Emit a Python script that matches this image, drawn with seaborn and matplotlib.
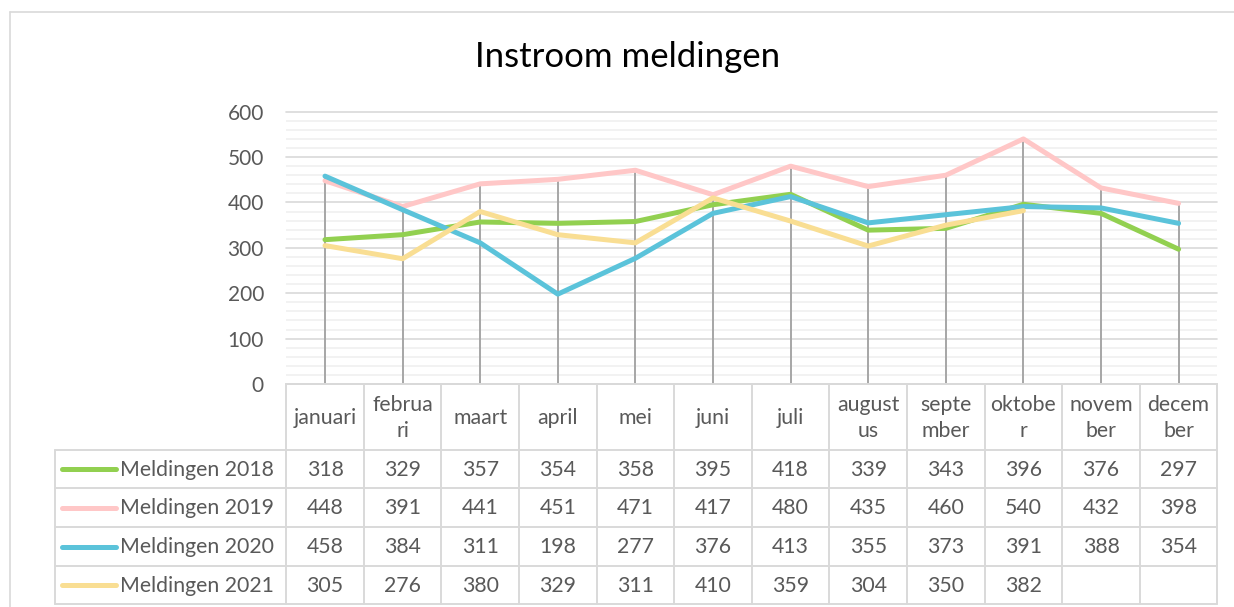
import numpy as np
import pandas as pd
import matplotlib
matplotlib.use("Agg")
import matplotlib.pyplot as plt
from matplotlib.lines import Line2D
import seaborn as sns

# ---------------- data ----------------
months = ["januari", "februari", "maart", "april", "mei", "juni", "juli",
          "augustus", "september", "oktober", "november", "december"]
month_labels = ["januari", "februa\nri", "maart", "april", "mei", "juni", "juli",
                "august\nus", "septe\nmber", "oktobe\nr", "novem\nber", "decem\nber"]
series_names = ["Meldingen 2018", "Meldingen 2019", "Meldingen 2020", "Meldingen 2021"]
m2018 = [318, 329, 357, 354, 358, 395, 418, 339, 343, 396, 376, 297]
m2019 = [448, 391, 441, 451, 471, 417, 480, 435, 460, 540, 432, 398]
m2020 = [458, 384, 311, 198, 277, 376, 413, 355, 373, 391, 388, 354]
m2021 = [305, 276, 380, 329, 311, 410, 359, 304, 350, 382, None, None]
colors = ["#92D050", "#FFC7C7", "#5BC3DA", "#F9DE93"]
title = "Instroom meldingen"

all_series = [m2018, m2019, m2020, m2021]
rows = []
for name, vals in zip(series_names, all_series):
    for i, v in enumerate(vals):
        if v is not None:
            rows.append({"idx": i, "value": v, "series": name})
df = pd.DataFrame(rows)

# ---------------- style ----------------
sns.set_theme(style="white")
plt.rcParams["font.family"] = ["Lato", "DejaVu Sans"]
txt_color = "#595959"
grid_major = "#D9D9D9"
grid_minor = "#F0F0F0"
drop_color = "#A6A6A6"

W, H = 1234, 607
fig = plt.figure(figsize=(W / 100, H / 100), dpi=100)
fig.patch.set_facecolor("white")

def fx(px):
    return px / W

def fy(py):
    return 1 - py / H

x_left, x_right = 286.2, 1217.4
y_top, y_zero, y_bottom = 111.7, 384.0, 604.0
cat_w = (x_right - x_left) / 12

ax = fig.add_axes([fx(x_left), fy(y_zero), (x_right - x_left) / W, (y_zero - y_top) / H])

# drop lines (from highest point to axis)
maxes = df.groupby("idx")["value"].max()
ax.vlines(maxes.index, 0, maxes.values, color=drop_color, lw=1.4, zorder=1.5)

sns.lineplot(data=df, x="idx", y="value", hue="series", hue_order=series_names,
             palette=colors, lw=3.6, ax=ax, legend=False, sort=False, zorder=3)

ax.set_xlim(-0.5, 11.5)
ax.set_ylim(0, 600)
ax.set_yticks(np.arange(0, 601, 100))
ax.set_yticks(np.arange(0, 601, 20), minor=True)
ax.set_xticks([])
ax.grid(which="major", axis="y", color=grid_major, lw=1.2)
ax.grid(which="minor", axis="y", color=grid_minor, lw=1.2)
ax.set_axisbelow(True)
for gl in ax.get_ygridlines():
    gl.set_clip_on(False)
for s in ax.spines.values():
    s.set_visible(False)
ax.tick_params(axis="y", which="both", length=0, pad=16, labelsize=15, labelcolor=txt_color)
ax.set_xlabel("")
ax.set_ylabel("")

# ---------------- data table ----------------
tax = fig.add_axes([fx(x_left), fy(y_bottom), (x_right - x_left) / W, (y_bottom - y_zero) / H])
tax.set_xlim(-0.5, 11.5)
tax.set_ylim(y_bottom, y_zero)
tax.axis("off")

def dx(px):
    return -0.5 + (px - x_left) / cat_w

row_edges = [384, 450, 488, 527, 566, 604]
leg_left = dx(55)
tbl_color = "#D9D9D9"
lw_t = 1.4

tax.plot([-0.5, 11.5], [row_edges[0]] * 2, color=tbl_color, lw=lw_t, clip_on=False)
for ye in row_edges[1:]:
    tax.plot([leg_left, 11.5], [ye] * 2, color=tbl_color, lw=lw_t, clip_on=False)
for k in range(13):
    tax.plot([k - 0.5] * 2, [row_edges[0], row_edges[-1]], color=tbl_color, lw=lw_t, clip_on=False)
tax.plot([leg_left] * 2, [row_edges[1], row_edges[-1]], color=tbl_color, lw=lw_t, clip_on=False)

fs = 15.3
for i, lab in enumerate(month_labels):
    tax.text(i, (row_edges[0] + row_edges[1]) / 2 + 1, lab, ha="center", va="center",
             fontsize=fs, color=txt_color, linespacing=1.35, clip_on=False)

for r, (name, vals, c) in enumerate(zip(series_names, all_series, colors)):
    yc = (row_edges[r + 1] + row_edges[r + 2]) / 2
    tax.plot([dx(62), dx(116)], [yc, yc], color=c, lw=3.6, solid_capstyle="round", clip_on=False)
    tax.text(dx(120), yc + 0.5, name, ha="left", va="center", fontsize=fs, color=txt_color, clip_on=False)
    for i, v in enumerate(vals):
        if v is not None:
            tax.text(i, yc + 0.5, str(v), ha="center", va="center", fontsize=fs,
                     color=txt_color, clip_on=False)

# ---------------- title & frame ----------------
fig.text(fx(628), fy(57), title, ha="center", va="center", fontsize=25, color="#000000")

frame_c = "#D9D9D9"
fig.add_artist(Line2D([fx(10), fx(10)], [fy(12), 0], color=frame_c, lw=1.2, transform=fig.transFigure))
fig.add_artist(Line2D([fx(10), 1], [fy(12), fy(12)], color=frame_c, lw=1.2, transform=fig.transFigure))

fig.savefig("out.png", dpi=100, facecolor="white")
